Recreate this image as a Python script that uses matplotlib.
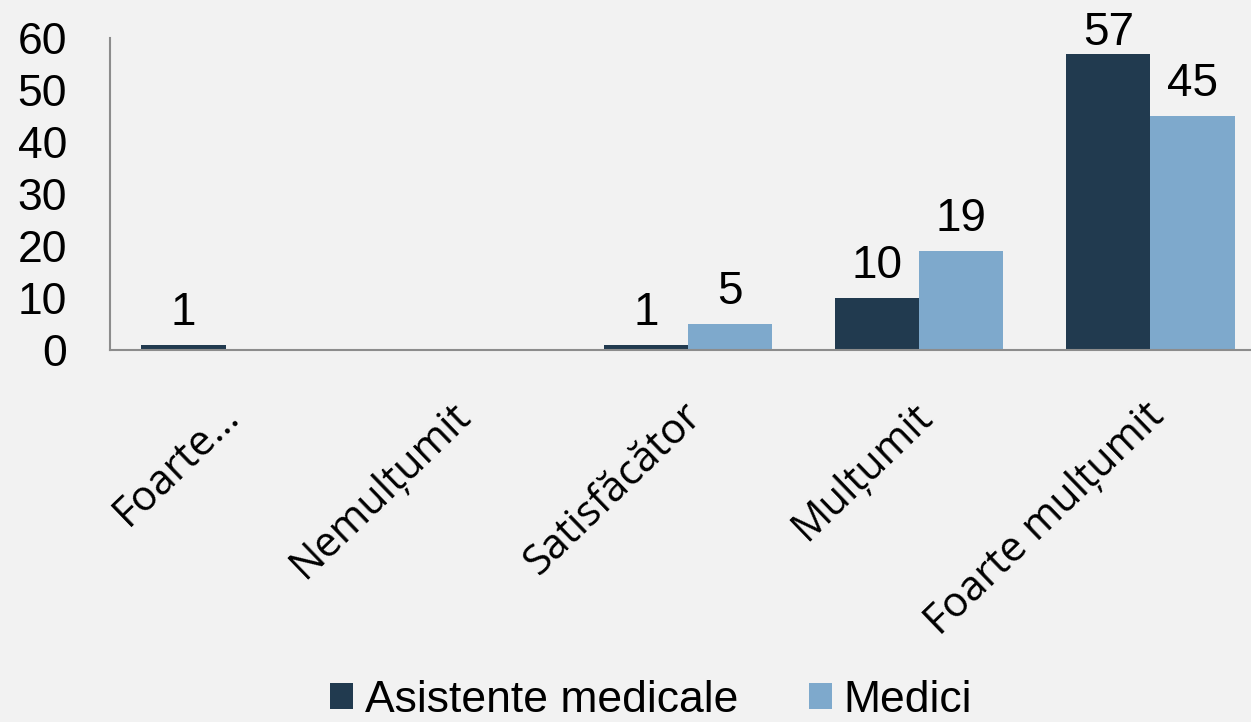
import matplotlib
matplotlib.use("Agg")
import matplotlib.pyplot as plt
from matplotlib.patches import Patch
import matplotlib.transforms as mtransforms

categories = ["Foarte…", "Nemulțumit", "Satisfăcător", "Mulțumit", "Foarte mulțumit"]
asistente = [1, 0, 1, 10, 57]
medici = [0, 0, 5, 19, 45]
series_names = ["Asistente medicale", "Medici"]
yticks = [0, 10, 20, 30, 40, 50, 60]

dark = "#213a4f"
light = "#7ea9cc"
bg = "#f2f2f2"

plt.rcParams['font.family'] = ['Liberation Sans', 'DejaVu Sans']

W, H = 1251, 722
fig = plt.figure(figsize=(W / 100, H / 100), dpi=100, facecolor=bg)
ax_left, ax_bottom, ax_right, ax_top = 110, 350, 1266, 38
ax = fig.add_axes([ax_left / W, 1 - ax_bottom / H, (ax_right - ax_left) / W, (ax_bottom - ax_top) / H])
ax.set_facecolor(bg)

x = list(range(len(categories)))
bw = 0.364
b1 = ax.bar([i - bw / 2 for i in x], asistente, width=bw, color=dark, zorder=3)
b2 = ax.bar([i + bw / 2 for i in x], medici, width=bw, color=light, zorder=3)

ax.set_xlim(-0.5, len(categories) - 0.5)
ax.set_ylim(0, 60)
ax.set_yticks(yticks)
ax.set_yticklabels([str(v) for v in yticks])
ax.tick_params(axis='y', length=0, pad=31, labelsize=32, labelcolor='black')
ax.tick_params(axis='x', length=0, pad=43, labelsize=30)

for s in ['top', 'right']:
    ax.spines[s].set_visible(False)
for s in ['left', 'bottom']:
    ax.spines[s].set_color('#8c8c8c')
    ax.spines[s].set_linewidth(1.5)
ax.spines['bottom'].set_zorder(4)

ax.set_xticks(x)
ax.set_xticklabels(categories, rotation=44, ha='right', va='center', rotation_mode='anchor',
                   family=['Open Sans', 'DejaVu Sans'])
offset = mtransforms.ScaledTranslation(8 / 100, 0, fig.dpi_scale_trans)
for lbl in ax.get_xticklabels():
    lbl.set_transform(lbl.get_transform() + offset)

# data labels
fig.canvas.draw()
for bars, vals in ((b1, asistente), (b2, medici)):
    for rect, v in zip(bars, vals):
        if v == 0:
            continue
        cx = rect.get_x() + rect.get_width() / 2
        top_px = ax.transData.transform((cx, v))[1]
        top_from_top = H - top_px
        gap = min(20, max(top_from_top - 45, 0))
        ax.annotate(str(v), (cx, v), xytext=(0, gap * 0.72), textcoords='offset points',
                    ha='center', va='baseline', fontsize=33, color='black', annotation_clip=False)

handles = [Patch(facecolor=dark), Patch(facecolor=light)]
leg = fig.legend(handles, series_names, loc='center', bbox_to_anchor=(651 / W, 1 - 700 / H),
                 ncol=2, frameon=False, handlelength=0.52, handleheight=0.52, handletextpad=0.25,
                 columnspacing=1.6, prop={'family': ['Liberation Sans', 'DejaVu Sans'], 'size': 32})

fig.savefig("out.png", dpi=100, facecolor=bg)
